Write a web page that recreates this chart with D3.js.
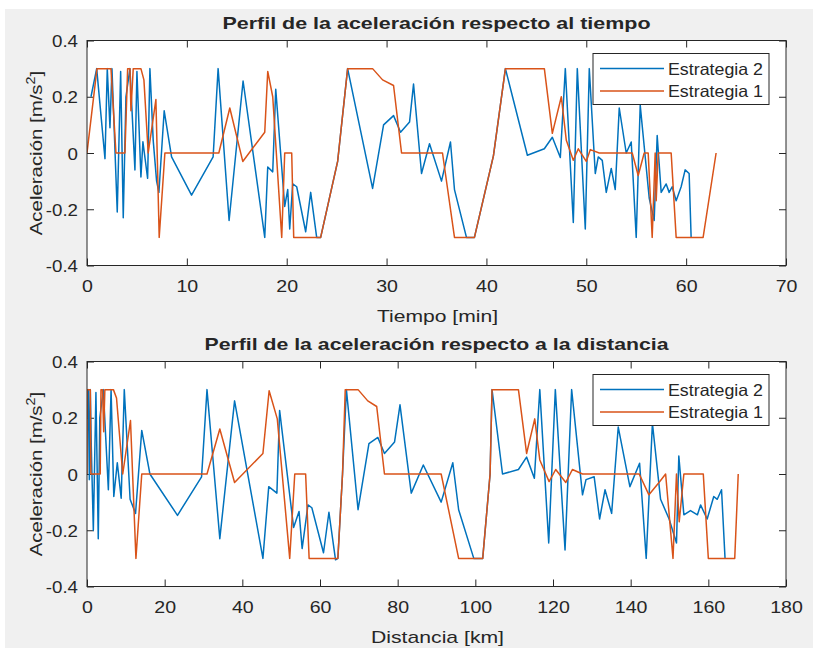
<!DOCTYPE html>
<html><head><meta charset="utf-8">
<script src="https://cdn.jsdelivr.net/npm/d3@7"></script>
<style>body{margin:0;background:#fff}text{font-family:"Liberation Sans",Arial,Helvetica,sans-serif;fill:#262626}</style>
</head><body><svg id="c" width="820" height="649"></svg>
<script>
// ---- data: acceleration vs time ----
const tiempoE1 = [0,1.0,2.4,2.9,3.8,4.07,4.3,4.4,4.63,5.4,5.7,6.13,6.9,7.23,7.8,13.2,14.3,15.6,17.8,18.1,18.6,19.5,19.8,20.5,20.7,23.4,25.1,26.1,28.6,29.6,30.7,31.5,35.6,36.8,38.8,40.7,41.9,45.8,46.6,47.5,48.0,48.7,49.2,50.0,50.4,51.3,54.6,55.2,55.8,56.2,56.6,56.9,57.0,57.2,58.5,59.0,61.7,63.0];
const acelTiempoE1 = [0,0.3,0.3,0,0,0.3,0.3,0.15,0.3,0.3,0.26,0,0.19,-0.3,0,0,0.16,-0.03,0.074,0.29,0.2,-0.3,0,0,-0.3,-0.3,-0.03,0.3,0.3,0.26,0.24,0,0,-0.3,-0.3,-0.01,0.3,0.3,0.07,0.2,0.045,-0.026,0.015,-0.03,0.012,0,0,-0.08,0,0,-0.3,0,-0.17,0,0,-0.3,-0.3,0];
const tiempoE2 = [0.4,0.97,1.8,2.03,2.3,2.5,3.03,3.37,3.63,3.9,4.3,4.8,5.0,5.4,5.6,6.07,6.3,6.63,6.97,7.2,7.73,8.47,10.47,12.63,13.13,14.23,15.63,17.8,18.1,18.6,18.9,19.8,20.1,20.3,20.6,21.0,21.9,22.4,23.0,23.4,25.1,26.1,28.6,29.7,30.7,31.4,32.3,32.7,33.5,34.3,35.5,36.4,36.8,38.0,38.8,40.7,41.9,44.1,45.8,46.6,47.4,47.9,48.7,49.1,49.9,50.3,50.9,51.2,51.6,52.0,52.5,52.9,53.3,54.0,54.5,55.0,55.4,56.3,56.8,57.1,57.5,58.0,58.3,58.6,59.0,59.5,59.9,60.3,60.5];
const acelTiempoE2 = [0.2,0.3,-0.02,0.3,0.09,0.3,-0.21,0.29,-0.23,0.2,0.3,-0.06,0.29,-0.085,0.04,-0.09,0.3,0.045,-0.1,-0.14,0.15,-0.014,-0.15,-0.014,0.3,-0.24,0.256,-0.3,-0.05,-0.067,0.227,-0.19,-0.13,-0.27,-0.11,-0.12,-0.28,-0.14,-0.3,-0.3,-0.03,0.3,-0.126,0.10,0.133,0.074,0.11,0.245,-0.073,0.033,-0.10,0.039,-0.13,-0.3,-0.3,-0.01,0.3,-0.008,0.015,0.056,-0.016,0.3,-0.247,0.3,-0.27,0.3,-0.073,-0.014,-0.026,-0.14,-0.055,-0.13,0.16,0,0.039,-0.3,0.17,-0.16,-0.24,0.062,-0.14,-0.11,-0.14,-0.12,-0.17,-0.12,-0.06,-0.073,-0.3];
// ---- data: acceleration vs distance ----
const distanciaE1 = [0,0.05,0.85,1.0,3.4,3.6,4.0,4.3,4.6,6.8,7.6,9.2,11.2,12.6,14.1,30.9,34.2,38.0,45.3,46.9,49.0,52.2,53.5,56.3,57.2,64.6,65.8,66.5,69.8,72.3,74.6,76.6,91.2,95.7,101.9,103.8,104.3,111.1,113.2,115.3,116.6,119.0,120.7,123.3,125.0,127.6,142.2,144.7,147.3,149.0,150.9,151.8,152.5,153.7,158.7,160.0,166.8,167.7];
const acelDistE1 = [0,0.3,0.3,0,0,0.3,0.3,0.15,0.3,0.3,0.27,0,0.19,-0.3,0,0,0.16,-0.03,0.073,0.296,0.196,-0.3,0,0,-0.3,-0.3,0,0.3,0.3,0.26,0.24,0,0,-0.3,-0.3,0,0.3,0.3,0.073,0.196,0.05,-0.027,0.016,-0.03,0.016,0,0,-0.074,-0.03,0,-0.3,0,-0.17,0,0,-0.3,-0.3,0];
const distanciaE2 = [0.1,0.34,0.6,0.85,1.1,1.63,2.3,2.9,3.3,4.2,5.5,6.2,6.9,7.8,8.8,9.6,11.1,12.5,14.1,16.2,23.3,29.5,30.9,34.2,38.0,45.3,46.8,48.9,49.6,53.2,54.6,55.4,56.9,57.9,60.9,62.3,64.0,64.6,65.8,66.8,69.8,72.6,74.9,76.6,79.2,80.6,83.5,86.6,91.2,94.2,95.7,99.6,101.9,103.8,104.3,107.0,111.1,113.2,115.2,116.6,118.9,120.6,123.1,124.8,127.6,128.5,130.6,132.0,133.4,135.1,136.8,139.8,142.3,144.0,145.6,147.7,149.9,151.8,152.4,153.7,155.4,157.2,158.0,159.7,161.4,162.3,163.4,164.3];
const acelDistE2 = [0.2,0.3,-0.02,0.3,0.1,-0.2,0.29,-0.23,0.2,0.3,-0.056,0.3,-0.08,0.04,-0.086,0.3,-0.09,-0.14,0.155,0,-0.147,-0.01,0.3,-0.23,0.26,-0.3,-0.045,-0.068,0.226,-0.19,-0.133,-0.265,-0.11,-0.12,-0.28,-0.136,-0.305,-0.3,0,0.3,-0.127,0.108,0.13,0.073,0.114,0.246,-0.068,0.032,-0.1,0.04,-0.127,-0.3,-0.3,0,0.3,0,0.016,0.06,-0.015,0.3,-0.245,0.3,-0.27,0.3,-0.074,-0.02,-0.01,-0.16,-0.056,-0.14,0.167,-0.045,0.038,-0.3,0.18,-0.09,-0.16,-0.245,0.064,-0.145,-0.13,-0.145,-0.11,-0.16,-0.08,-0.09,-0.056,-0.3];
// ---- axis ticks & labels ----
const yTicks = [-0.4,-0.2,0,0.2,0.4];
const yTickLabels = ["-0.4","-0.2","0","0.2","0.4"];
const xTicksTiempo = [0,10,20,30,40,50,60,70];
const xTicksDist = [0,20,40,60,80,100,120,140,160,180];
const legendNames = ["Estrategia 2","Estrategia 1"];
const titles = ["Perfil de la aceleración respecto al tiempo","Perfil de la aceleración respecto a la distancia"];
const xLabels = ["Tiempo [min]","Distancia [km]"];

const colors = {E2:"#0072BD", E1:"#D95319"};
const svg = d3.select("#c");
svg.append("rect").attr("x",5).attr("y",9).attr("width",808).attr("height",639).attr("fill","#f0f0f0");

function stretch(sel,k){ sel.each(function(){ const L=this.getComputedTextLength(); d3.select(this).attr("textLength",L*k).attr("lengthAdjust","spacingAndGlyphs"); }); }

function panel(o){
  const L=87,R=786,T=o.top,B=o.top+225;
  const x=d3.scaleLinear().domain(o.xdom).range([L,R]);
  const y=d3.scaleLinear().domain([-0.4,0.4]).range([B,T]);
  const g=svg.append("g");
  g.append("rect").attr("x",L).attr("y",T).attr("width",R-L).attr("height",B-T).attr("fill","#fff");
  const id="clip"+Math.round(o.top);
  svg.append("clipPath").attr("id",id).append("rect").attr("x",L).attr("y",T).attr("width",R-L).attr("height",B-T);
  const tl=7;
  const ax=d3.axisBottom(x).tickValues(o.xticks).tickSize(-tl).tickFormat(d=>String(d));
  const gb=g.append("g").attr("transform",`translate(0,${B})`).call(ax);
  const gt=g.append("g").attr("transform",`translate(0,${T})`).call(d3.axisTop(x).tickValues(o.xticks).tickSize(-tl).tickFormat(""));
  const ay=d3.axisLeft(y).tickValues(yTicks).tickSize(-tl).tickFormat((d,i)=>yTickLabels[i]);
  const gl=g.append("g").attr("transform",`translate(${L},0)`).call(ay);
  const gr=g.append("g").attr("transform",`translate(${R},0)`).call(d3.axisRight(y).tickValues(yTicks).tickSize(-tl).tickFormat(""));
  [gb,gt,gl,gr].forEach(a=>{a.select(".domain").remove(); a.selectAll("line").attr("stroke","#262626"); a.selectAll("text").attr("fill","#262626").style("font-family",'"Liberation Sans",Arial,sans-serif').style("font-size","17px");});
  gb.selectAll("text").attr("dy",null).attr("y",26);
  gl.selectAll("text").attr("x",-9).attr("dy","0.36em");
  stretch(gb.selectAll("text"),1.15); stretch(gl.selectAll("text"),1.1);
  const line=d3.line().x(d=>x(d[0])).y(d=>y(d[1]));
  const lg=g.append("g").attr("clip-path",`url(#${id})`);
  lg.append("path").datum(o.x2.map((v,i)=>[v,o.y2[i]])).attr("d",line).attr("fill","none").attr("stroke",colors.E2).attr("stroke-width",1.5).attr("stroke-linejoin","round");
  lg.append("path").datum(o.x1.map((v,i)=>[v,o.y1[i]])).attr("d",line).attr("fill","none").attr("stroke",colors.E1).attr("stroke-width",1.5).attr("stroke-linejoin","round");
  g.append("rect").attr("x",L).attr("y",T).attr("width",R-L).attr("height",B-T).attr("fill","none").attr("stroke","#262626").attr("stroke-width",1);
  g.append("text").attr("x",(L+R)/2).attr("y",T-12).attr("text-anchor","middle").style("font-weight","bold").style("font-size","16.5px").attr("fill","#000")
    .text(o.title).attr("textLength",o.titleW).attr("lengthAdjust","spacingAndGlyphs");
  g.append("text").attr("x",(L+R)/2+1).attr("y",B+56).attr("text-anchor","middle").style("font-size","17px")
    .text(o.xlabel).attr("textLength",o.xlabelW).attr("lengthAdjust","spacingAndGlyphs");
  const yl=g.append("text").attr("transform",`translate(42,${(T+B)/2}) rotate(-90)`).attr("text-anchor","middle").style("font-size","17px");
  yl.append("tspan").text("Aceleración [m/s");
  yl.append("tspan").text("2").style("font-size","12px").attr("dy",-7);
  yl.append("tspan").text("]").attr("dy",7);
  stretch(yl,1.2);
  const lx=593,ly=T+13,lw=176,lh=51;
  const leg=g.append("g");
  leg.append("rect").attr("x",lx).attr("y",ly).attr("width",lw).attr("height",lh).attr("fill","#fff").attr("stroke","#262626").attr("stroke-width",1);
  [[legendNames[0],colors.E2],[legendNames[1],colors.E1]].forEach((e,i)=>{
    const ry=ly+15+i*22.5;
    leg.append("line").attr("x1",600).attr("x2",664).attr("y1",ry).attr("y2",ry).attr("stroke",e[1]).attr("stroke-width",1.5);
    leg.append("text").attr("x",668).attr("y",ry+6).style("font-size","16.5px").text(e[0]).attr("textLength",95).attr("lengthAdjust","spacingAndGlyphs");
  });
}

panel({top:40.5,xdom:[0,70],xticks:xTicksTiempo,x1:tiempoE1,y1:acelTiempoE1,x2:tiempoE2,y2:acelTiempoE2,title:titles[0],titleW:428,xlabel:xLabels[0],xlabelW:121});
panel({top:361.5,xdom:[0,180],xticks:xTicksDist,x1:distanciaE1,y1:acelDistE1,x2:distanciaE2,y2:acelDistE2,title:titles[1],titleW:464,xlabel:xLabels[1],xlabelW:133});
</script>
</body></html>
